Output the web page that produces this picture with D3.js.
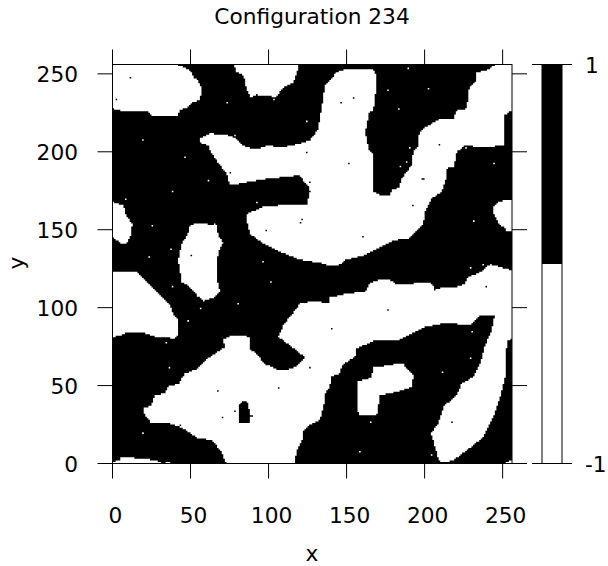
<!DOCTYPE html>
<html lang="en">
<head>
  <meta charset="UTF-8">
  <title>Configuration 234</title>
  <style>
    body { margin: 0; background: #fff; overflow: hidden; }
    text { font-family: "DejaVu Sans", sans-serif; fill: #000; }
    .axis path { display: none; }
    .axis line { stroke: #000; stroke-width: 1px; }
    .axis text { font-size: 21.7px; }
  </style>
</head>
<body>
  <script src="https://d3js.org/d3.v7.min.js"></script>
  <script>
    const gridSize = 256;
    const xTicks = [0, 50, 100, 150, 200, 250];
    const yTicks = [0, 50, 100, 150, 200, 250];
    const barTicks = [-1, 1];
    const barSpins = [-1, 1];

    // +1 domains, outlines in lattice units
    const domainTopLeft = [[0,256],[40,256],[45.4,254.3],[50.1,252.2],[51.8,247.9],[55,245.8],[57.2,239.8],[56.1,233.4],[49.7,230.8],[48,228.2],[43.3,227],[41.6,222.7],[26.2,222.7],[23,225.5],[14.4,226.1],[6.9,225.5],[4.8,227],[0,227.6]];
    const domainTopMid = [[77.5,256],[79.6,251.1],[83.9,249],[86,240.4],[88.6,235.1],[92.4,236.6],[105.2,235.1],[108.4,240.4],[115.9,244.7],[118,250],[119.6,256]];
    const domainCentral = [[56.5,209],[62.5,211.6],[72.1,211.2],[78.5,209],[83.9,204.1],[90.7,201.3],[99.9,204.1],[107.4,202.6],[118,204.7],[126.6,207.3],[131.9,214.8],[134.1,228.7],[136.2,242.6],[139.4,245.8],[143.7,251.1],[149,252.8],[162.9,253.2],[168.3,252.2],[169.3,243.6],[167.2,226.5],[164.6,225.5],[161.9,212.6],[164,202],[166.8,198.8],[167.2,174.2],[172.5,172],[177.9,172],[178.9,175.3],[183.9,177.4],[185.4,182.7],[188.6,187],[191.8,191.3],[192.8,200.9],[196,203],[196,210.5],[199.2,214.8],[208.9,220.6],[218.5,221.2],[220.6,226.5],[227,227.6],[228.7,241.5],[232.4,244.7],[233.4,251.1],[239.8,252.2],[244.1,255.4],[248.4,256],[256,256],[256,226.5],[251.2,223.3],[250.5,204.1],[237.7,202.6],[226,204.1],[220.6,199.8],[218.9,190.2],[214.6,190.2],[214.2,183.8],[211,174.2],[204.6,169.9],[200.3,161.4],[199.2,153.9],[189.6,144.3],[180,143.2],[169.3,137.9],[161.9,133.6],[149,130.4],[146.9,127.8],[139.4,126.6],[135.1,128.3],[120.2,130.8],[105.2,136.8],[96.7,141.1],[88.1,147.5],[85.4,158.2],[87.1,160.7],[96.7,164.6],[107.4,165.6],[124.5,166.3],[126.6,174.2],[126.2,177.4],[122.7,180.6],[120.2,184.9],[98.8,182.7],[75.3,178.5],[73.2,185.9],[68.9,191.3],[63.6,198.8],[61.4,204.1],[56.5,205.6]];
    const domainLeftEdge = [[0,167.8],[6.9,165.6],[9.1,158.2],[12.9,153.9],[11.6,146.4],[9.1,141.5],[4.8,141.5],[0,145.3]];
    const domainOval = [[49.7,152.8],[55,154.3],[66.8,152.8],[67.8,146.4],[71,141.5],[68.5,136.8],[66.8,130.4],[66.8,119.7],[68.9,110.1],[65.7,106.9],[58.2,104.3],[53.9,108],[49.7,113.3],[44.3,116.5],[42.2,130.4],[44.3,141],[48,146.4]];
    const domainRightEdge = [[256,168.8],[248.4,168.4],[244.1,164.6],[244.5,160.3],[247.3,153.9],[250.5,151.8],[253.1,148.5],[256,149.6]];
    const domainLeftMid = [[0,122.9],[15.1,122.9],[18.7,119.7],[28.3,110.1],[36.9,101.6],[39,95.1],[42.2,91.9],[42.2,82.3],[40.1,80.2],[27.2,81.3],[17.6,84.5],[9.1,83.8],[4.8,81.7],[0,81.3]];
    const domainLower = [[19.8,35.3],[25.1,37.4],[27.2,43.9],[33.7,44.9],[35.8,49.6],[42.2,50.9],[46.5,57.7],[55,61],[59.3,66.3],[65.7,70.6],[72.1,74.8],[70.6,79.1],[76.4,82.3],[88.1,81.3],[87.7,73.8],[94.5,68.4],[96.7,64.2],[107.4,59.5],[115.9,61],[123.4,68],[114.9,74.8],[106.3,81.3],[109.5,88.7],[120.2,102.6],[126.6,103.7],[133,103.7],[138.4,102.6],[139.4,106.5],[150.1,109],[161.9,110.1],[165.1,115.9],[171.5,118],[177.9,117.6],[182.2,115],[190.7,115.4],[203.5,115.9],[206.7,112.2],[220.6,113.3],[226,115.4],[227,119.3],[234.5,121.9],[242,127.8],[256,124],[256,80.2],[252.7,78.1],[251.6,55.6],[248.4,42.8],[245.8,34.2],[237.7,17.1],[231.3,11.8],[218.5,2.2],[212.1,0.5],[208.9,2.2],[206.7,10.7],[204,19.3],[208.9,25.7],[212.1,36.4],[220.6,43.9],[223.8,51.3],[231.3,55.6],[235.6,64.2],[238.8,75.9],[243.1,85.5],[244.8,95.1],[235.6,95.1],[229.2,88.7],[214.2,90.2],[200.3,87.7],[184.3,79.5],[168.3,79.1],[156.5,73.8],[155.4,68.4],[146.9,63.1],[145.8,57.8],[139.8,55.6],[139.4,49.2],[135.6,43.9],[136.2,40.7],[133,27.8],[126.6,24.6],[122.3,20.4],[121.3,13.9],[118,8.6],[116.9,0],[73.2,0],[69,8.6],[63.6,15],[55,16.1],[43.3,23.6],[34.7,26.1],[25.1,25.7],[20.8,31]];
    const domainInner = [[167.2,61.6],[177.9,63.1],[186.4,64.6],[187.5,62],[192.8,56.7],[191.8,49.2],[182.2,46],[171.5,43.9],[169.3,31],[157.6,31],[156.5,52.4],[166.1,55.2]];
    const domainBottomLeft = [[0,0],[0,1.1],[4.8,2.2],[5.9,4.3],[15.5,3.3],[27.2,2.2],[31.5,0]];
    const domainBottomSliver = [[34,0],[34,1.2],[37.3,1.2],[37.3,0]];
    const domainBottomCorner = [[251.6,0],[251.6,1],[256,2],[256,0]];
    const upDomains = [domainTopLeft, domainTopMid, domainCentral, domainLeftEdge, domainOval, domainRightEdge,
      domainLeftMid, domainLower, domainInner, domainBottomLeft, domainBottomSliver, domainBottomCorner];

    // -1 hole inside the lower domain
    const holeLower = [[80.6,25.7],[80.6,37.4],[83.9,40.6],[87.1,38.5],[88.1,31],[90.4,30.6],[88.1,29.6],[87.7,25.7]];

    // single flipped spins
    const flippedSpins = [[11.4,247.9],[2.5,233],[73.6,231.9],[124,219.7],[78.5,210.7],[90.7,201.3],[19.3,207.7],[124.9,199.8],[46.5,196.6],[75.8,186.8],[61.6,181.7],[38.6,174.8],[8.4,169.9],[92.8,167.8],[25.5,152.8],[65.7,153.9],[121.9,156.9],[120.2,154.7],[98.8,149.6],[37.5,137.9],[50.7,133.8],[23.4,132.5],[103.7,233.8],
      [189.2,253.9],[176.2,239.8],[202.2,240.9],[154.2,234.9],[146,231.9],[183.2,227],[209.3,204.7],[190.1,202.8],[226,202.8],[188.1,193.8],[184.3,190.9],[151.2,192.8],[244.5,192.8],[198.8,182.9],[199.8,182.9],[126.6,180.6],[192.2,165.9],[231.3,155.8],[160.1,145.8],
      [38.6,113.9],[101,116.9],[80.7,102.6],[56.7,99.8],[48.6,91.3],[34.7,77.6],[36.4,61.6],[67.8,46.6],[106.9,48.6],[78.7,33.6],[70.8,29.8],[43.5,24.6],[19.3,19.5],[96.7,129.8],
      [229.2,125.7],[237.7,127.8],[239.8,113.3],[206.1,111.8],[176.2,98.8],[140,86.8],[230.2,84.7],[229.2,67.6],[211.2,58.6],[126.6,61],[165.1,26.6],[217.2,26.6],[158,7.5],[204.2,5.4]];

    const width = 608, height = 566;
    const plotLeft = 112.5, plotRight = 512, plotTop = 64.5, plotBottom = 463.5;
    const barLeft = 542, barRight = 562;

    const svg = d3.select("body").append("svg").attr("width", width).attr("height", height);
    const x = d3.scaleLinear().domain([0, gridSize]).range([plotLeft, plotRight]);
    const y = d3.scaleLinear().domain([0, gridSize]).range([plotBottom, plotTop]);
    const barY = d3.scaleLinear().domain([-1, 1]).range([plotBottom, plotTop]);
    const spinColor = d3.scaleOrdinal().domain([-1, 1]).range(["#fff", "#000"]);

    // build the lattice from the outlines, then flip the odd spins
    const spins = d3.range(gridSize).map(r => d3.range(gridSize).map(c => {
      const p = [c + 0.5, r + 0.5];
      const up = upDomains.some(d => d3.polygonContains(d, p)) && !d3.polygonContains(holeLower, p);
      return up ? -1 : 1;
    }));
    flippedSpins.forEach(([c, r]) => {
      const row = spins[Math.floor(r)], col = Math.floor(c);
      row[col] = -row[col];
    });

    svg.append("rect").attr("x", x(0)).attr("y", y(gridSize))
      .attr("width", x(gridSize) - x(0)).attr("height", y(0) - y(gridSize))
      .attr("fill", spinColor(1));

    // white runs per row, all in one path so rows leave no seams
    const cellPath = d3.path();
    spins.forEach((row, r) => {
      let c = 0;
      while (c < gridSize) {
        if (row[c] !== -1) { c++; continue; }
        let end = c;
        while (end < gridSize && row[end] === -1) end++;
        cellPath.rect(x(c), y(r + 1), x(end) - x(c), y(r) - y(r + 1));
        c = end;
      }
    });
    svg.append("path").attr("d", cellPath.toString()).attr("fill", spinColor(-1));

    svg.append("rect").attr("x", plotLeft).attr("y", plotTop)
      .attr("width", plotRight - plotLeft).attr("height", plotBottom - plotTop)
      .attr("fill", "none").attr("stroke", "#000");

    svg.append("g").attr("class", "axis").attr("transform", `translate(0,${plotBottom})`)
      .call(d3.axisBottom(x).offset(0).tickValues(xTicks).tickSize(15).tickFormat(d3.format("d")))
      .selectAll("text").attr("y", 59.8).attr("dy", 0).attr("dx", 3);
    svg.append("g").attr("class", "axis").attr("transform", `translate(0,${plotTop})`)
      .call(d3.axisTop(x).offset(0).tickValues(xTicks).tickSize(15).tickFormat(""));
    svg.append("g").attr("class", "axis").attr("transform", `translate(${plotLeft},0)`)
      .call(d3.axisLeft(y).offset(0).tickValues(yTicks).tickSize(15).tickFormat(d3.format("d")))
      .selectAll("text").attr("x", -34.5).attr("dy", 8.5);
    svg.append("g").attr("class", "axis").attr("transform", `translate(${plotRight},0)`)
      .call(d3.axisRight(y).offset(0).tickValues(yTicks).tickSize(15).tickFormat(""));

    // colour bar
    svg.selectAll(".bar-cell").data(barSpins).enter().append("rect")
      .attr("class", "bar-cell")
      .attr("x", barLeft)
      .attr("y", d => barY(Math.max(d, 0)))
      .attr("width", barRight - barLeft)
      .attr("height", barY(0) - barY(1))
      .attr("fill", d => spinColor(d));
    svg.append("rect").attr("x", barLeft).attr("y", plotTop)
      .attr("width", barRight - barLeft).attr("height", plotBottom - plotTop)
      .attr("fill", "none").attr("stroke", "#000");
    svg.append("g").attr("class", "axis").attr("transform", `translate(${barLeft},0)`)
      .call(d3.axisLeft(barY).offset(0).tickValues(barTicks).tickSize(10).tickFormat(""));
    svg.append("g").attr("class", "axis").attr("transform", `translate(${barRight},0)`)
      .call(d3.axisRight(barY).offset(0).tickValues(barTicks).tickSize(10).tickPadding(13).tickFormat(d => String(d)))
      .selectAll("text").attr("dy", 8);

    svg.append("text").attr("x", 312).attr("y", 24).attr("text-anchor", "middle")
      .style("font-size", "21.7px").text("Configuration 234");
    svg.append("text").attr("x", 312).attr("y", 561).attr("text-anchor", "middle")
      .style("font-size", "21.7px").text("x");
    svg.append("text").attr("transform", "translate(23.8,263) rotate(-90)").attr("text-anchor", "middle")
      .style("font-size", "21.7px").text("y");
  </script>
</body>
</html>
